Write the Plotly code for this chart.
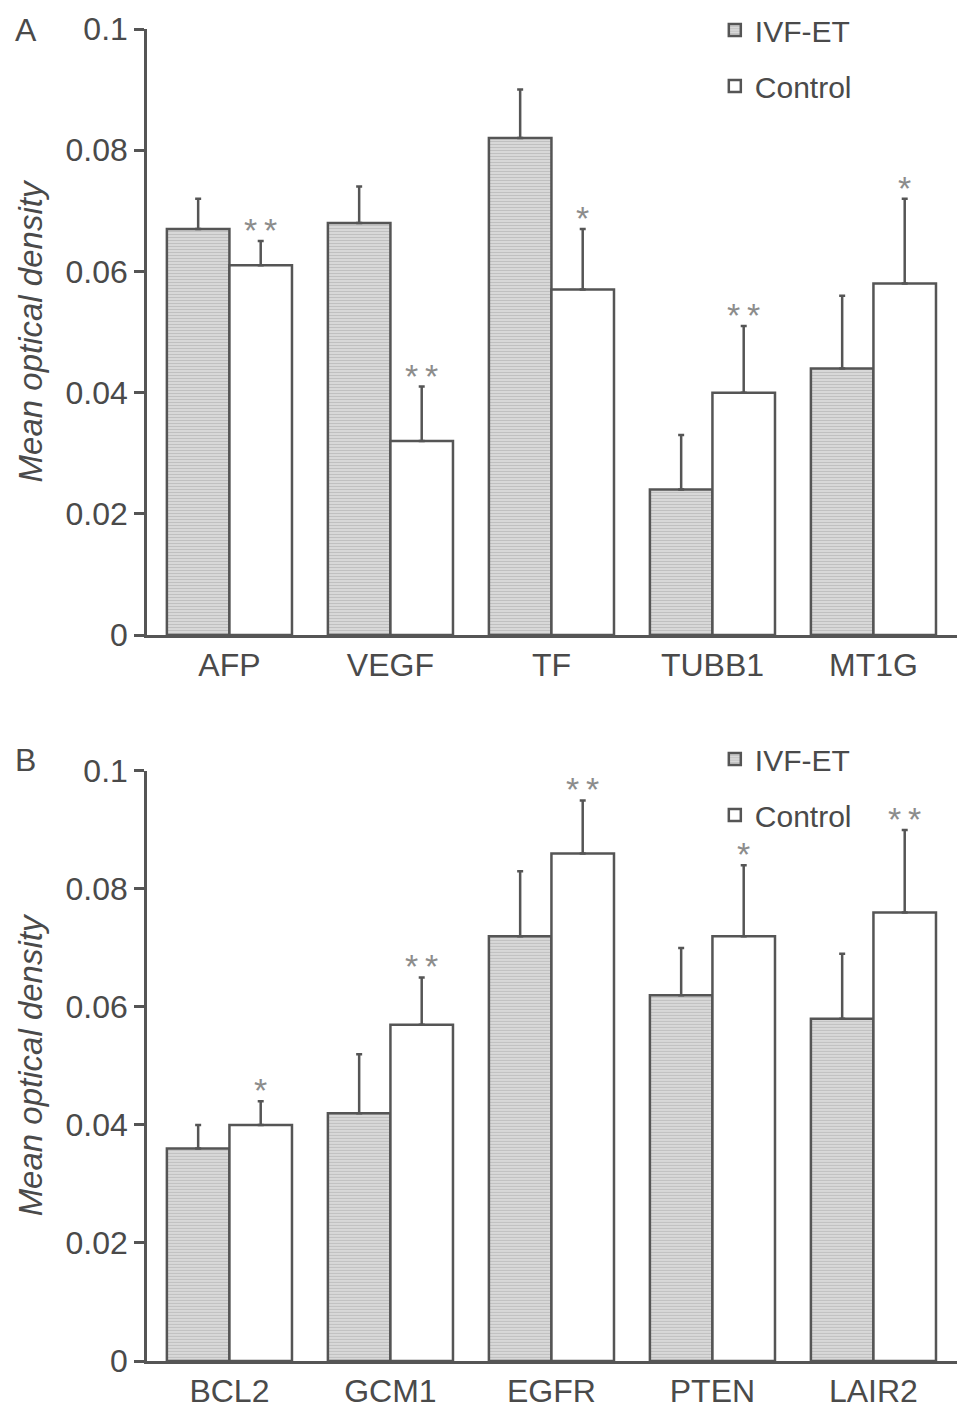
import plotly.graph_objects as go
from plotly.subplots import make_subplots

# Panel A data
genes_a = ['AFP', 'VEGF', 'TF', 'TUBB1', 'MT1G']
ivf_a = [0.067, 0.068, 0.082, 0.024, 0.044]
ivf_a_err = [0.005, 0.006, 0.008, 0.009, 0.012]
ctrl_a = [0.061, 0.032, 0.057, 0.040, 0.058]
ctrl_a_err = [0.004, 0.009, 0.010, 0.011, 0.014]
sig_a = ['**', '**', '*', '**', '*']

# Panel B data
genes_b = ['BCL2', 'GCM1', 'EGFR', 'PTEN', 'LAIR2']
ivf_b = [0.036, 0.042, 0.072, 0.062, 0.058]
ivf_b_err = [0.004, 0.010, 0.011, 0.008, 0.011]
ctrl_b = [0.040, 0.057, 0.086, 0.072, 0.076]
ctrl_b_err = [0.004, 0.008, 0.009, 0.012, 0.014]
sig_b = ['*', '**', '**', '*', '**']

TXT = '#4a4a4a'
LINE = '#555555'
FONT = 'Liberation Sans, Arial, sans-serif'

fig = make_subplots(rows=2, cols=1)

panels = [
    (1, genes_a, ivf_a, ivf_a_err, ctrl_a, ctrl_a_err, 'legend'),
    (2, genes_b, ivf_b, ivf_b_err, ctrl_b, ctrl_b_err, 'legend2'),
]

for row, genes, ivf, ivf_err, ctrl, ctrl_err, leg in panels:
    fig.add_trace(go.Bar(
        x=genes, y=ivf, name='IVF-ET', legend=leg, legendgroup=f'i{row}',
        marker=dict(color='#d4d4d4', line=dict(color=LINE, width=2.5),
                    pattern=dict(shape='-', size=3, solidity=0.35,
                                 fgcolor='#a8a8a8', bgcolor='#d8d8d8')),
        error_y=dict(type='data', symmetric=False, array=ivf_err,
                     arrayminus=[0] * len(ivf_err), color=LINE,
                     thickness=2.5, width=3),
    ), row=row, col=1)
    fig.add_trace(go.Bar(
        x=genes, y=ctrl, name='Control', legend=leg, legendgroup=f'c{row}',
        marker=dict(color='white', line=dict(color=LINE, width=2.5)),
        error_y=dict(type='data', symmetric=False, array=ctrl_err,
                     arrayminus=[0] * len(ctrl_err), color=LINE,
                     thickness=2.5, width=3),
    ), row=row, col=1)

# significance stars above control bars
for row, ctrl, ctrl_err, sig in [(1, ctrl_a, ctrl_a_err, sig_a),
                                 (2, ctrl_b, ctrl_b_err, sig_b)]:
    for i, s in enumerate(sig):
        fig.add_annotation(
            x=i + 0.194, y=ctrl[i] + ctrl_err[i], text='\u2009'.join(s),
            xref=f'x{row if row > 1 else ""}', yref=f'y{row if row > 1 else ""}',
            showarrow=False, yanchor='bottom', yshift=-10,
            font=dict(size=34, color='#8c8c8c', family=FONT),
        )

fig.update_xaxes(showline=True, linecolor=LINE, linewidth=2.5,
                 ticks='', showgrid=False, range=[-0.512, 4.519],
                 tickfont=dict(size=32, color=TXT, family=FONT))
fig.update_yaxes(showline=True, linecolor=LINE, linewidth=2.5,
                 ticks='outside', ticklen=10, tickwidth=2.5, tickcolor=LINE,
                 showgrid=False, zeroline=False, range=[0, 0.1],
                 tickvals=[0, 0.02, 0.04, 0.06, 0.08, 0.1],
                 ticktext=['0', '0.02', '0.04', '0.06', '0.08', '0.1'],
                 tickfont=dict(size=32, color=TXT, family=FONT),
                 title=dict(text='<i>Mean optical density</i>', standoff=14,
                            font=dict(size=33, color=TXT, family=FONT)))
fig.update_layout(yaxis=dict(domain=[0.545, 1.0]),
                  yaxis2=dict(domain=[0.0, 0.443]))

fig.add_annotation(text='A', xref='paper', yref='paper', x=-0.165, y=0.999,
                   xanchor='left', yanchor='middle', showarrow=False,
                   font=dict(size=32, color=TXT, family=FONT))
fig.add_annotation(text='B', xref='paper', yref='paper', x=-0.165, y=0.451,
                   xanchor='left', yanchor='middle', showarrow=False,
                   font=dict(size=32, color=TXT, family=FONT))

leg_style = dict(font=dict(size=30, color=TXT, family=FONT),
                 bgcolor='rgba(0,0,0,0)', tracegroupgap=14,
                 xanchor='left', yanchor='top', x=0.701)

# page body has an 8px margin, so the figure is sized to fit inside it;
# autoexpand off so the legends can sit up in the margin without pushing it
fig.update_layout(
    width=961, height=1415,
    margin=dict(l=139, r=12, t=21, b=62, autoexpand=False),
    plot_bgcolor='white', paper_bgcolor='white',
    barmode='group', bargap=0.223, bargroupgap=0,
    legend=dict(y=1.0188, **leg_style),
    legend2=dict(y=0.4715, **leg_style),
    font=dict(family=FONT, color=TXT),
)

fig.write_html('out.html')
